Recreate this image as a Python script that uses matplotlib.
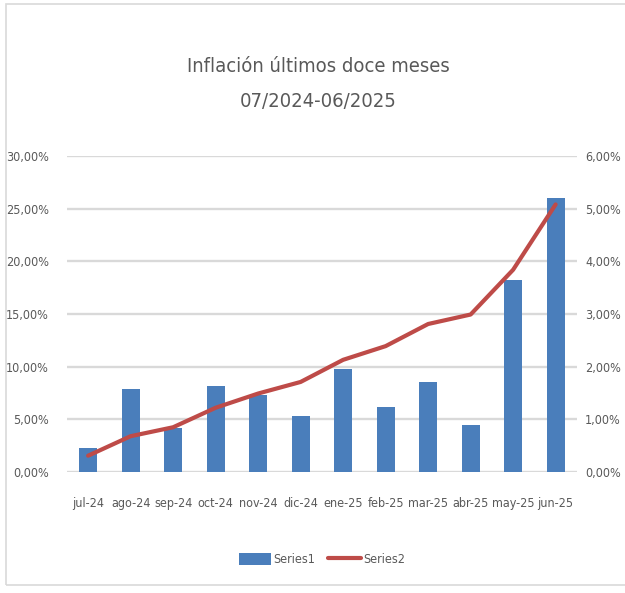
import matplotlib
matplotlib.use('Agg')
import matplotlib.pyplot as plt
from matplotlib.ticker import FuncFormatter
from matplotlib.patches import Rectangle

# datos
meses = ['jul-24', 'ago-24', 'sep-24', 'oct-24', 'nov-24', 'dic-24',
         'ene-25', 'feb-25', 'mar-25', 'abr-25', 'may-25', 'jun-25']
series1 = [2.3, 7.9, 4.2, 8.2, 7.3, 5.3, 9.8, 6.2, 8.5, 4.5, 18.2, 26.0]  # eje izq
series2 = [0.31, 0.68, 0.85, 1.22, 1.49, 1.71, 2.13, 2.39, 2.81, 2.99, 3.84, 5.08]  # eje der

AZUL = '#4A7EBB'
ROJO = '#BE4B48'
GRIS = '#595959'

plt.rcParams['font.family'] = ['Liberation Sans Narrow', 'DejaVu Sans']
plt.rcParams['font.stretch'] = 'condensed'

fig = plt.figure(figsize=(6.25, 5.93), dpi=100)
ax = fig.add_axes([0.107, 0.204, 0.816, 0.533])
ax2 = ax.twinx()

# marco del grafico
fig.patches.append(Rectangle((6/625, 8/593), 1.2, 0.98, transform=fig.transFigure,
                             fill=False, edgecolor='#D9D9D9', lw=1.2))

x = list(range(len(meses)))
ax.bar(x, series1, width=0.42, color=AZUL, label='Series1', zorder=2)
ax2.plot(x, series2, color=ROJO, lw=3, label='Series2', solid_capstyle='round')

ax.set_ylim(0, 30)
ax2.set_ylim(0, 6)
ax.set_xlim(-0.5, 11.5)
ax.set_yticks(range(0, 31, 5))
ax2.set_yticks(range(0, 7))

fmt = FuncFormatter(lambda v, p: f'{v:.2f}%'.replace('.', ','))
ax.yaxis.set_major_formatter(fmt)
ax2.yaxis.set_major_formatter(fmt)

ax.set_xticks(x)
ax.set_xticklabels(meses)

ax.grid(axis='y', color='#D9D9D9', lw=1.7, zorder=0)
ax.set_axisbelow(True)
for a in (ax, ax2):
    for s in a.spines.values():
        s.set_visible(False)
    a.tick_params(length=0, colors=GRIS, labelsize=9)
ax.tick_params(axis='x', pad=18)
ax.tick_params(axis='y', pad=13)
ax2.tick_params(axis='y', pad=6)

fig.text(0.509, 0.888, 'Inflación últimos doce meses', ha='center', va='center',
         fontsize=14.5, color=GRIS)
fig.text(0.509, 0.828, '07/2024-06/2025', ha='center', va='center',
         fontsize=14.5, color=GRIS)

h1, l1 = ax.get_legend_handles_labels()
h2, l2 = ax2.get_legend_handles_labels()
fig.legend(h1 + h2, l1 + l2, loc='center', bbox_to_anchor=(0.515, 0.056), ncol=2,
           frameon=False, fontsize=9, labelcolor=GRIS, handlelength=2.6,
           handleheight=1.1, handletextpad=0.2, columnspacing=1.0)

fig.savefig('out.png', dpi=100)
